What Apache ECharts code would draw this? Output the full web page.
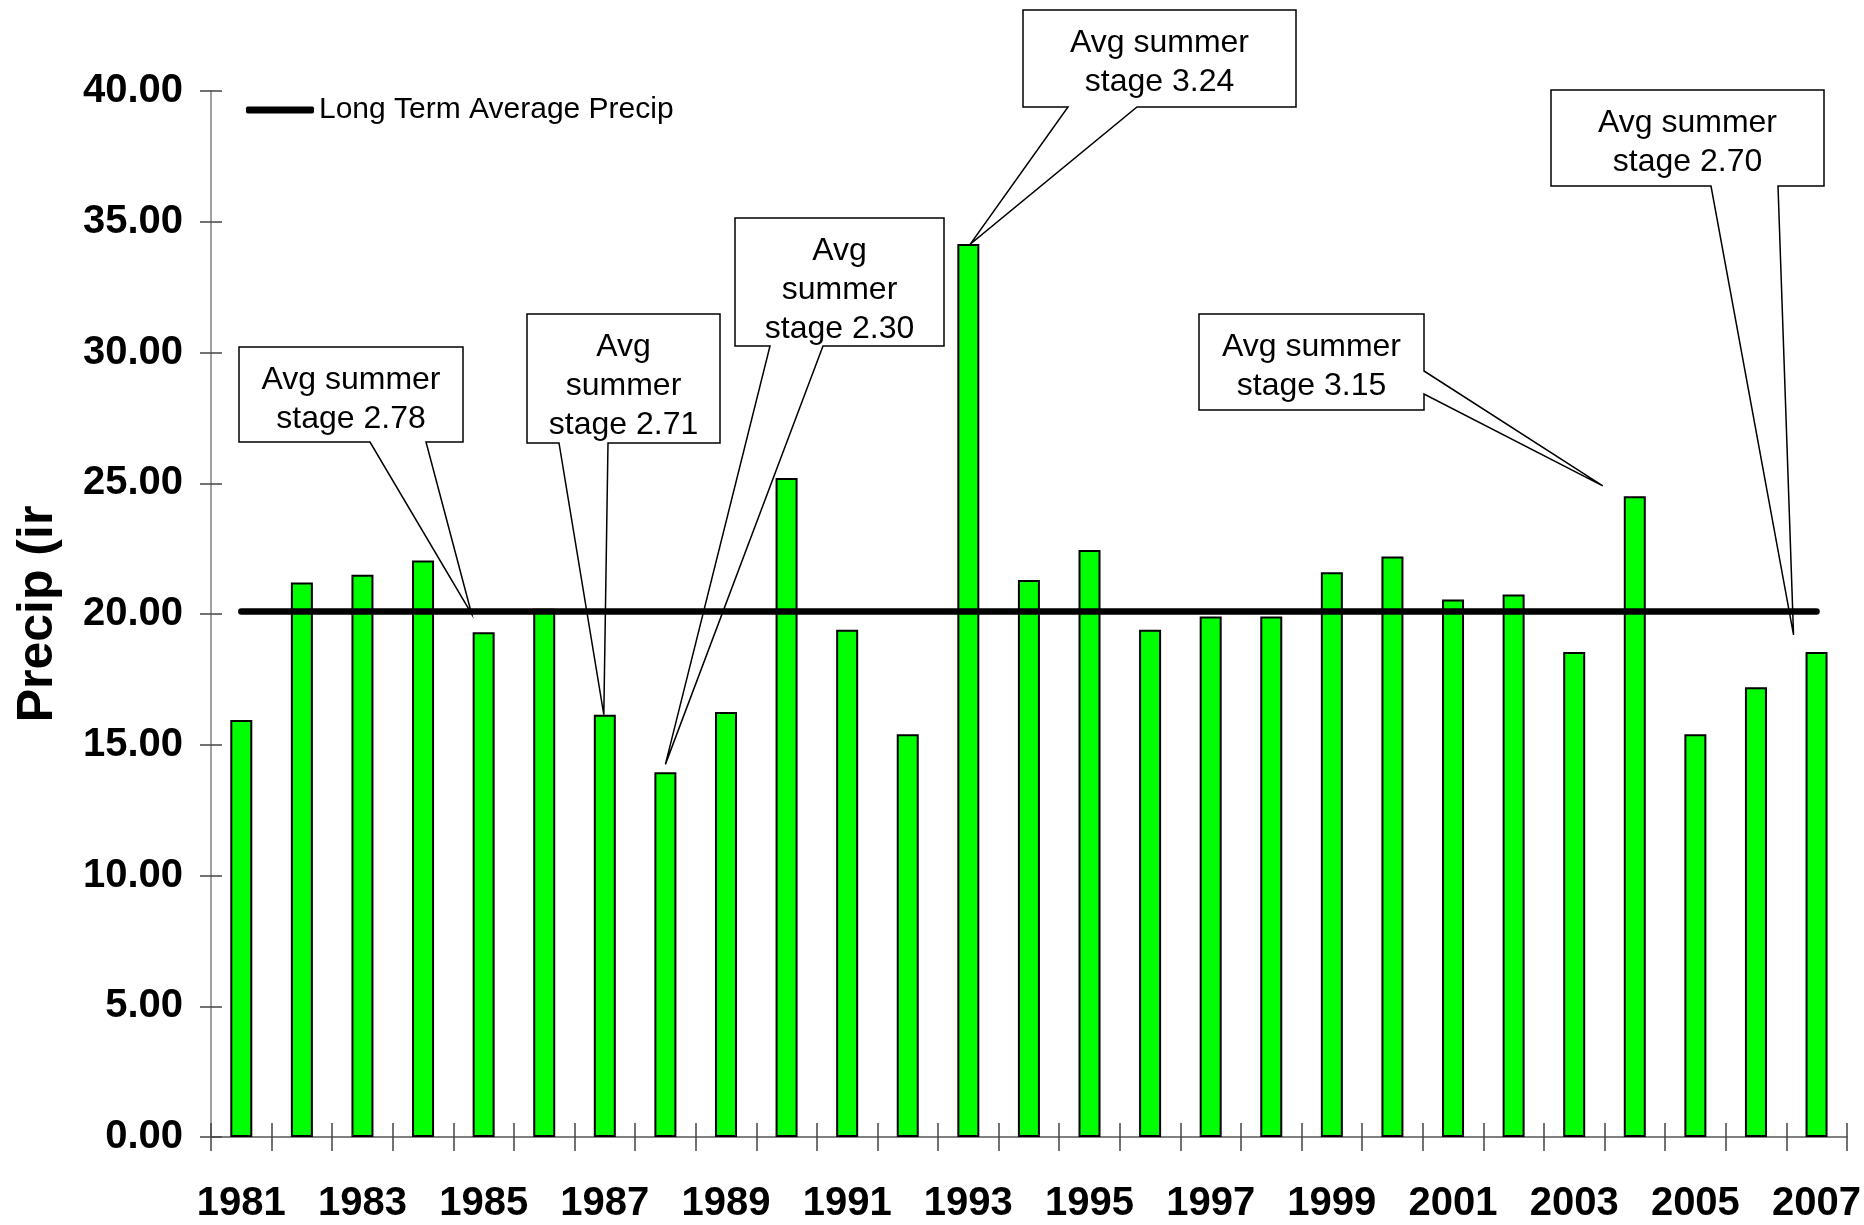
<!DOCTYPE html>
<html>
<head>
<meta charset="utf-8">
<title>Precip</title>
<script src="https://cdn.jsdelivr.net/npm/echarts@6/dist/echarts.min.js"></script>
<style>
  html, body { margin: 0; padding: 0; background: #fff; }
  #chart { width: 1864px; height: 1225px; }
</style>
</head>
<body>
<div id="chart"></div>
<script>
// data
const years = ['1981', '1982', '1983', '1984', '1985', '1986', '1987', '1988', '1989', '1990',
  '1991', '1992', '1993', '1994', '1995', '1996', '1997', '1998', '1999', '2000',
  '2001', '2002', '2003', '2004', '2005', '2006', '2007']
const precip = [15.95, 21.2, 21.5, 22.05, 19.3, 20.2, 16.15, 13.95, 16.25, 25.2,
  19.4, 15.4, 34.15, 21.3, 22.45, 19.4, 19.9, 19.9, 21.6, 22.2,
  20.55, 20.75, 18.55, 24.5, 15.4, 17.2, 18.55]
const longTermAvg = [20.1, 20.1, 20.1, 20.1, 20.1, 20.1, 20.1, 20.1, 20.1, 20.1,
  20.1, 20.1, 20.1, 20.1, 20.1, 20.1, 20.1, 20.1, 20.1, 20.1,
  20.1, 20.1, 20.1, 20.1, 20.1, 20.1, 20.1]
const yMin = 0, yMax = 40, yStep = 5

// callouts: text, box [x0,y0,x1,y1], wedge base, point it aims at (year, value, small px nudge)
const callouts = [
  { lines: ['Avg summer', 'stage 2.78'], box: [239, 347, 463, 442], side: 'bottom', base: [370, 426], tip: ['1985', 20.0, -12] },
  { lines: ['Avg', 'summer', 'stage 2.71'], box: [527, 314, 720, 443], side: 'bottom', base: [559, 608], tip: ['1987', 16.15, -1] },
  { lines: ['Avg', 'summer', 'stage 2.30'], box: [735, 218, 944, 346], side: 'bottom', base: [770, 823], tip: ['1988', 14.25, 0] },
  { lines: ['Avg summer', 'stage 3.24'], box: [1023, 10, 1296, 107], side: 'bottom', base: [1068, 1137], tip: ['1993', 34.15, 2] },
  { lines: ['Avg summer', 'stage 3.15'], box: [1199, 314, 1424, 410], side: 'right', base: [371, 394], tip: ['2004', 24.9, -32] },
  { lines: ['Avg summer', 'stage 2.70'], box: [1551, 90, 1824, 186], side: 'bottom', base: [1711, 1778], tip: ['2007', 19.2, -23] }
]

const sans = '"Liberation Sans", Arial, sans-serif'
const tickSize = 40

const chart = echarts.init(document.getElementById('chart'))

const option = {
  animation: false,
  backgroundColor: '#fff',
  grid: { left: 211, right: 15, top: 91, bottom: 88, containLabel: false },
  legend: {
    data: [{ name: 'Long Term Average Precip', icon: 'roundRect' }],
    left: 241, top: 90,
    itemWidth: 68, itemHeight: 7, itemGap: 10,
    itemStyle: { color: '#000', borderWidth: 0 },
    textStyle: { fontSize: 30, fontFamily: sans, color: '#000' }
  },
  xAxis: [
    {
      type: 'category', data: years, position: 'bottom',
      axisLine: { show: true, lineStyle: { color: '#808080', width: 2 } },
      axisTick: { show: true, interval: 0, length: 14, lineStyle: { color: '#444', width: 1.5 } },
      axisLabel: { interval: 1, margin: 47, fontSize: tickSize, fontWeight: 'bold', fontFamily: sans, color: '#000' }
    },
    {
      type: 'category', data: years, position: 'bottom',
      axisLine: { show: false },
      axisTick: { show: true, inside: true, interval: 0, length: 14, lineStyle: { color: '#444', width: 1.5 } },
      axisLabel: { show: false }
    }
  ],
  yAxis: [
    {
      type: 'value', min: yMin, max: yMax, interval: yStep, position: 'left',
      name: 'Precip (ir', nameLocation: 'middle', nameRotate: 90, nameGap: 148,
      nameTextStyle: { fontSize: 50, fontWeight: 'bold', fontFamily: sans, color: '#000' },
      axisLine: { show: true, lineStyle: { color: '#808080', width: 1.5 } },
      axisTick: { show: true, length: 11, lineStyle: { color: '#444', width: 1.5 } },
      axisLabel: {
        margin: 28, fontSize: tickSize, fontWeight: 'bold', fontFamily: sans, color: '#000',
        formatter: (v) => v.toFixed(2)
      },
      splitLine: { show: false }
    },
    {
      type: 'value', min: yMin, max: yMax, interval: yStep, position: 'left',
      axisLine: { show: false },
      axisTick: { show: true, inside: true, length: 11, lineStyle: { color: '#444', width: 1.5 } },
      axisLabel: { show: false },
      splitLine: { show: false }
    }
  ],
  series: [
    {
      name: 'Precip', type: 'bar', data: precip, barWidth: 22,
      itemStyle: { color: '#00ff00', borderColor: '#000', borderWidth: 2 }
    },
    {
      name: 'Long Term Average Precip', type: 'line', data: longTermAvg,
      symbol: 'none', z: 5,
      lineStyle: { color: '#000', width: 6.5, cap: 'round' },
      itemStyle: { color: '#000' }
    }
  ]
}
chart.setOption(option)

// callout boxes, pointed at the data through the chart's own scales
const graphics = callouts.map((c) => {
  const p = chart.convertToPixel({ xAxisIndex: 0, yAxisIndex: 0 }, [c.tip[0], c.tip[1]])
  const tip = [p[0] + c.tip[2], p[1]]
  const [x0, y0, x1, y1] = c.box
  let pts
  if (c.side === 'right') {
    pts = [[x0, y0], [x1, y0], [x1, c.base[0]], tip, [x1, c.base[1]], [x1, y1], [x0, y1]]
  } else {
    pts = [[x0, y0], [x1, y0], [x1, y1], [c.base[1], y1], tip, [c.base[0], y1], [x0, y1]]
  }
  return {
    type: 'group', z: 100,
    children: [
      { type: 'polygon', shape: { points: pts }, style: { fill: '#fff', stroke: '#000', lineWidth: 1.5 } },
      {
        type: 'text', x: (x0 + x1) / 2, y: y0 + 14,
        style: {
          text: c.lines.join('\n'), align: 'center', verticalAlign: 'top',
          fontSize: 32, lineHeight: 39, fontFamily: sans, fill: '#000'
        }
      }
    ]
  }
})
chart.setOption({ graphic: graphics })
</script>
</body>
</html>
